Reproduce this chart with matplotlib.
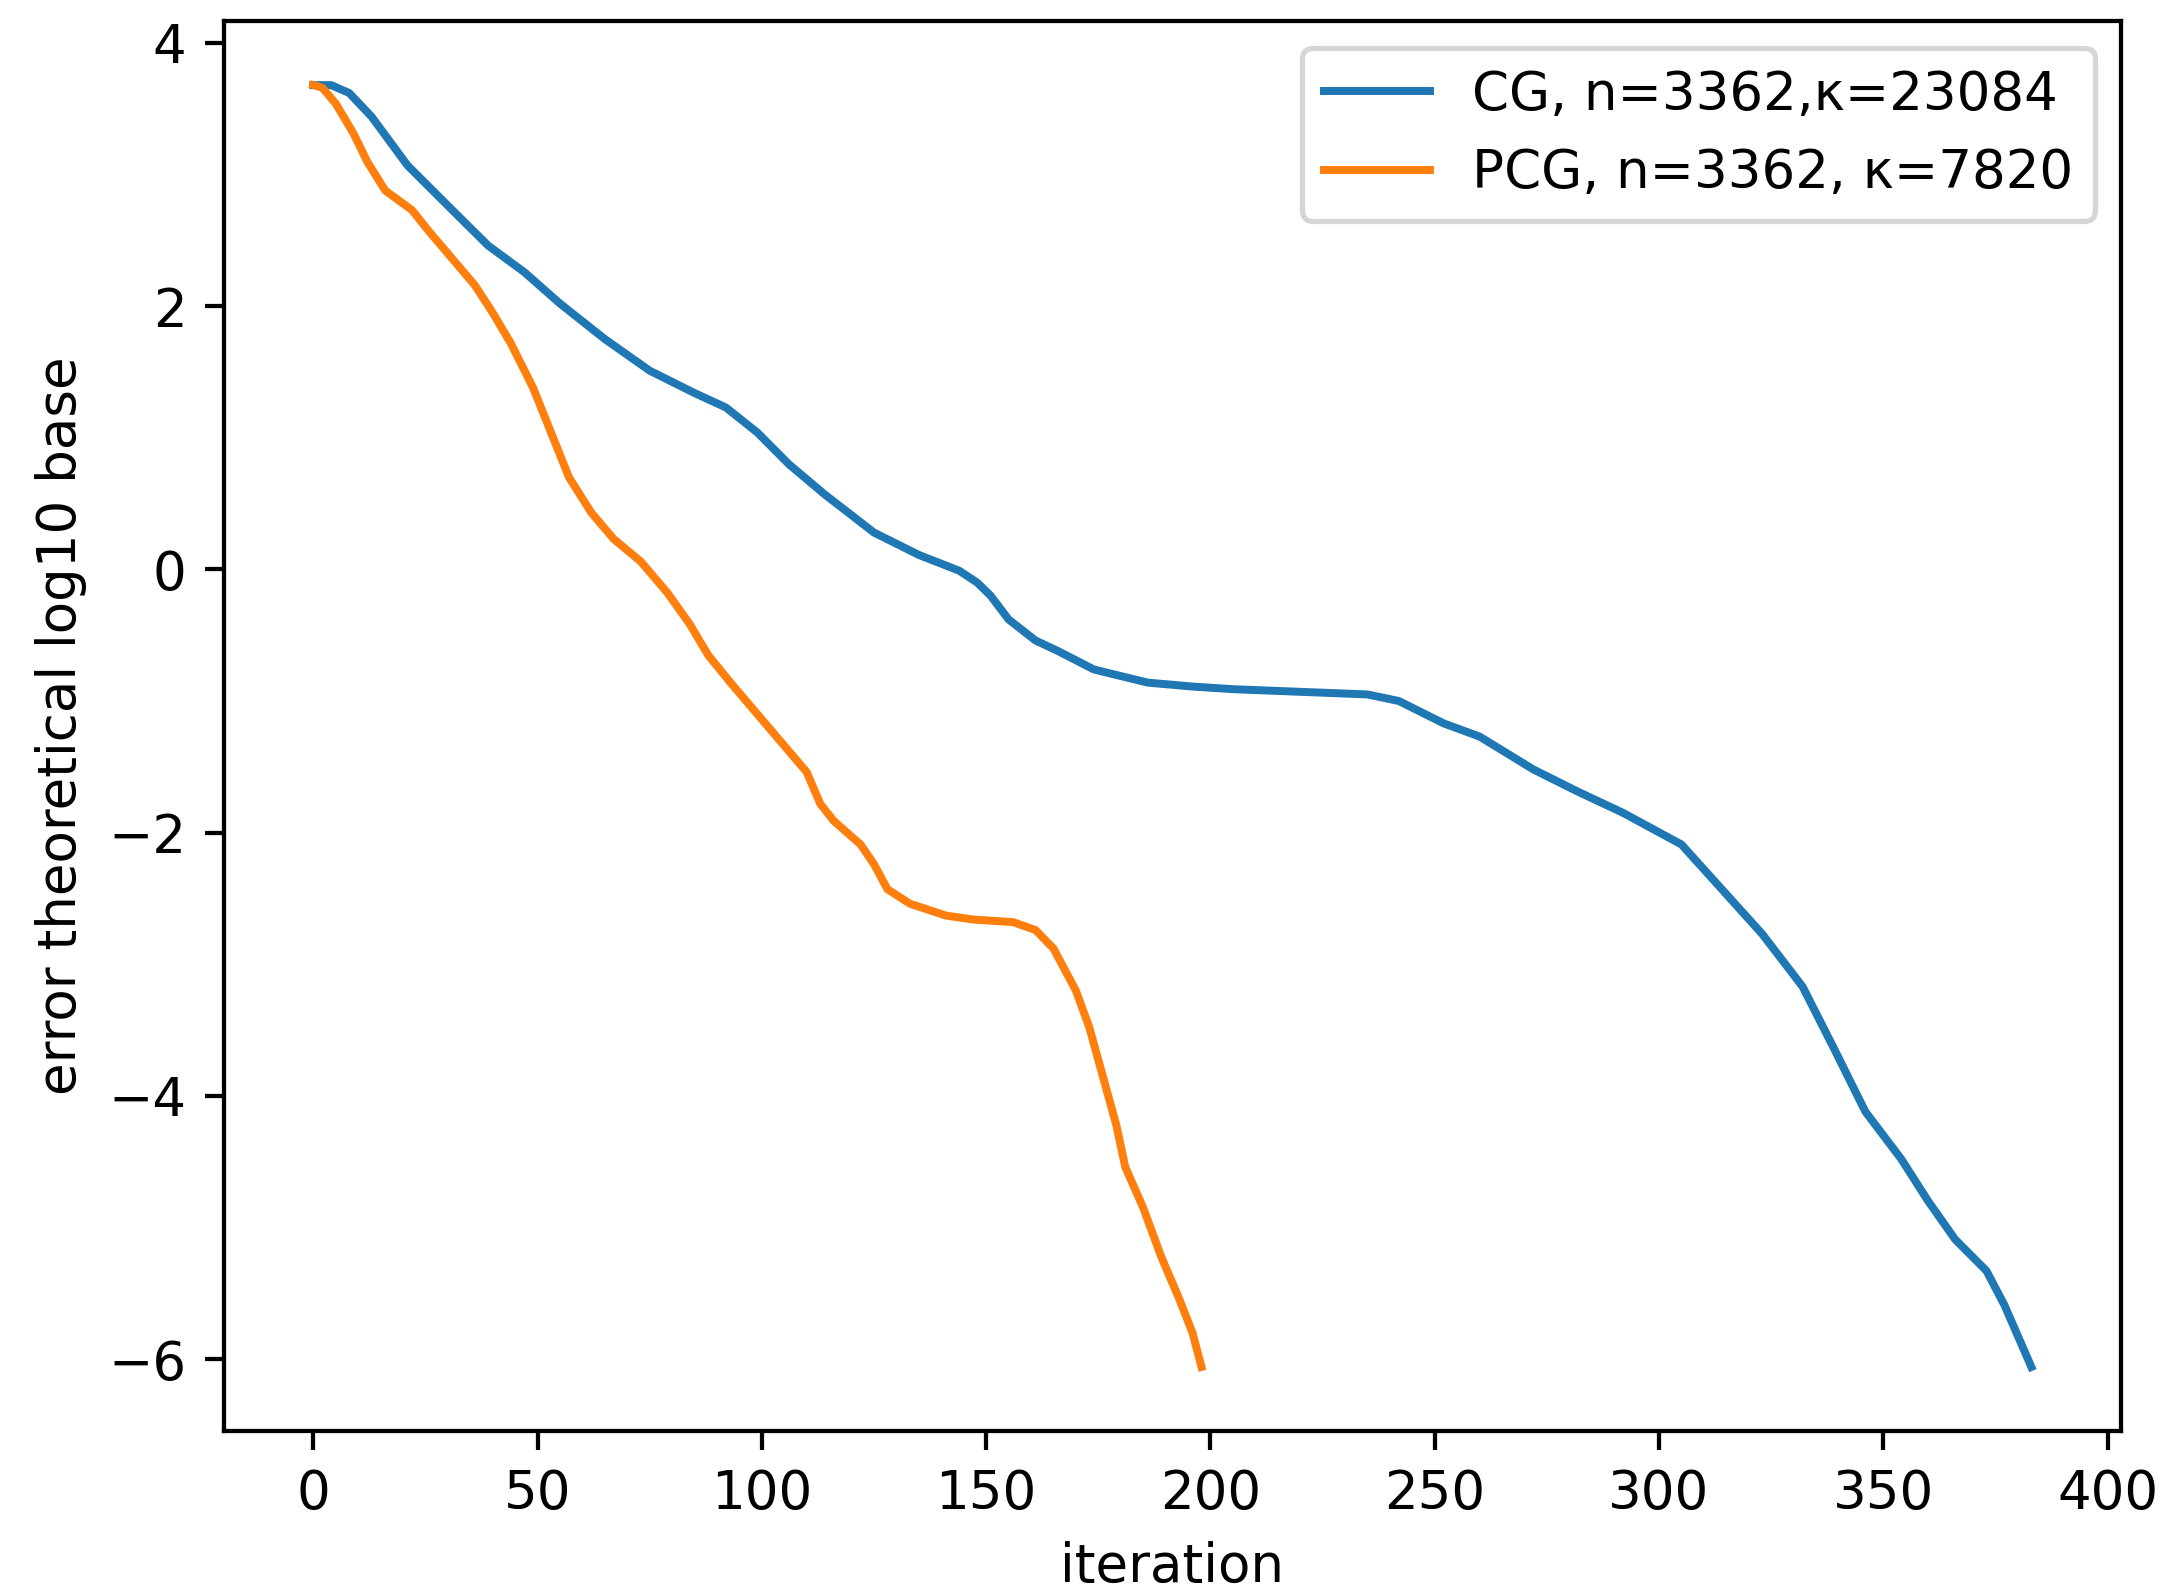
import numpy as np
import matplotlib
matplotlib.use("Agg")
import matplotlib.pyplot as plt

# values
cg_iter = [0, 4, 8, 13, 21, 31, 39, 47, 55, 65, 75, 85, 92, 99, 106, 114, 125, 135,
           141, 144, 148, 151, 155, 161, 166, 174, 186, 196, 205, 220, 235, 242, 252, 260, 272,
           282, 292, 305, 314, 323, 332, 339, 346, 354, 360, 366, 373, 377, 383]
cg_err = [3.68, 3.68, 3.62, 3.44, 3.07, 2.73, 2.46, 2.26, 2.02, 1.75, 1.51, 1.34, 1.23,
          1.04, 0.80, 0.57, 0.28, 0.11, 0.03, -0.01, -0.10, -0.20, -0.38, -0.54, -0.62, -0.76, -0.86,
          -0.89, -0.91, -0.93, -0.95, -1.00, -1.17, -1.27, -1.52, -1.69, -1.85, -2.09,
          -2.43, -2.77, -3.17, -3.64, -4.12, -4.48, -4.80, -5.09, -5.33, -5.59, -6.06]

pcg_iter = [0, 2, 5, 9, 12, 16, 22, 26, 31, 36, 40, 44, 49, 53, 57, 62, 67, 73, 79, 84,
            88, 93, 99, 106, 110, 113, 116, 122, 125, 128, 133, 141, 147, 156, 161, 165,
            170, 173, 176, 179, 181, 185, 189, 193, 196, 198]
pcg_err = [3.68, 3.66, 3.54, 3.31, 3.10, 2.88, 2.73, 2.56, 2.36, 2.16, 1.95, 1.72, 1.38,
           1.04, 0.70, 0.43, 0.23, 0.06, -0.18, -0.42, -0.65, -0.86, -1.10, -1.38, -1.54,
           -1.78, -1.91, -2.09, -2.24, -2.43, -2.54, -2.63, -2.66, -2.68, -2.74, -2.88,
           -3.20, -3.48, -3.85, -4.22, -4.54, -4.85, -5.22, -5.54, -5.80, -6.06]

labels = ["CG, n=3362,\u03ba=23084", "PCG, n=3362, \u03ba=7820"]

dpi = 382
fig = plt.figure(figsize=(2177 / dpi, 1592 / dpi), dpi=dpi)
ax = fig.add_axes([0.1027, 0.1011, 0.8716, 0.8857])

ax.plot(cg_iter, cg_err, color="tab:blue", label=labels[0])
ax.plot(pcg_iter, pcg_err, color="tab:orange", label=labels[1])

ax.set_xlim(-20, 403)
ax.set_xticks(np.arange(0, 401, 50))
ax.set_yticks([-6, -4, -2, 0, 2, 4])
ax.set_xlabel("iteration")
ax.set_ylabel("error theoretical log10 base")
ax.legend(loc="upper right")

fig.savefig("out.png", dpi=dpi)
